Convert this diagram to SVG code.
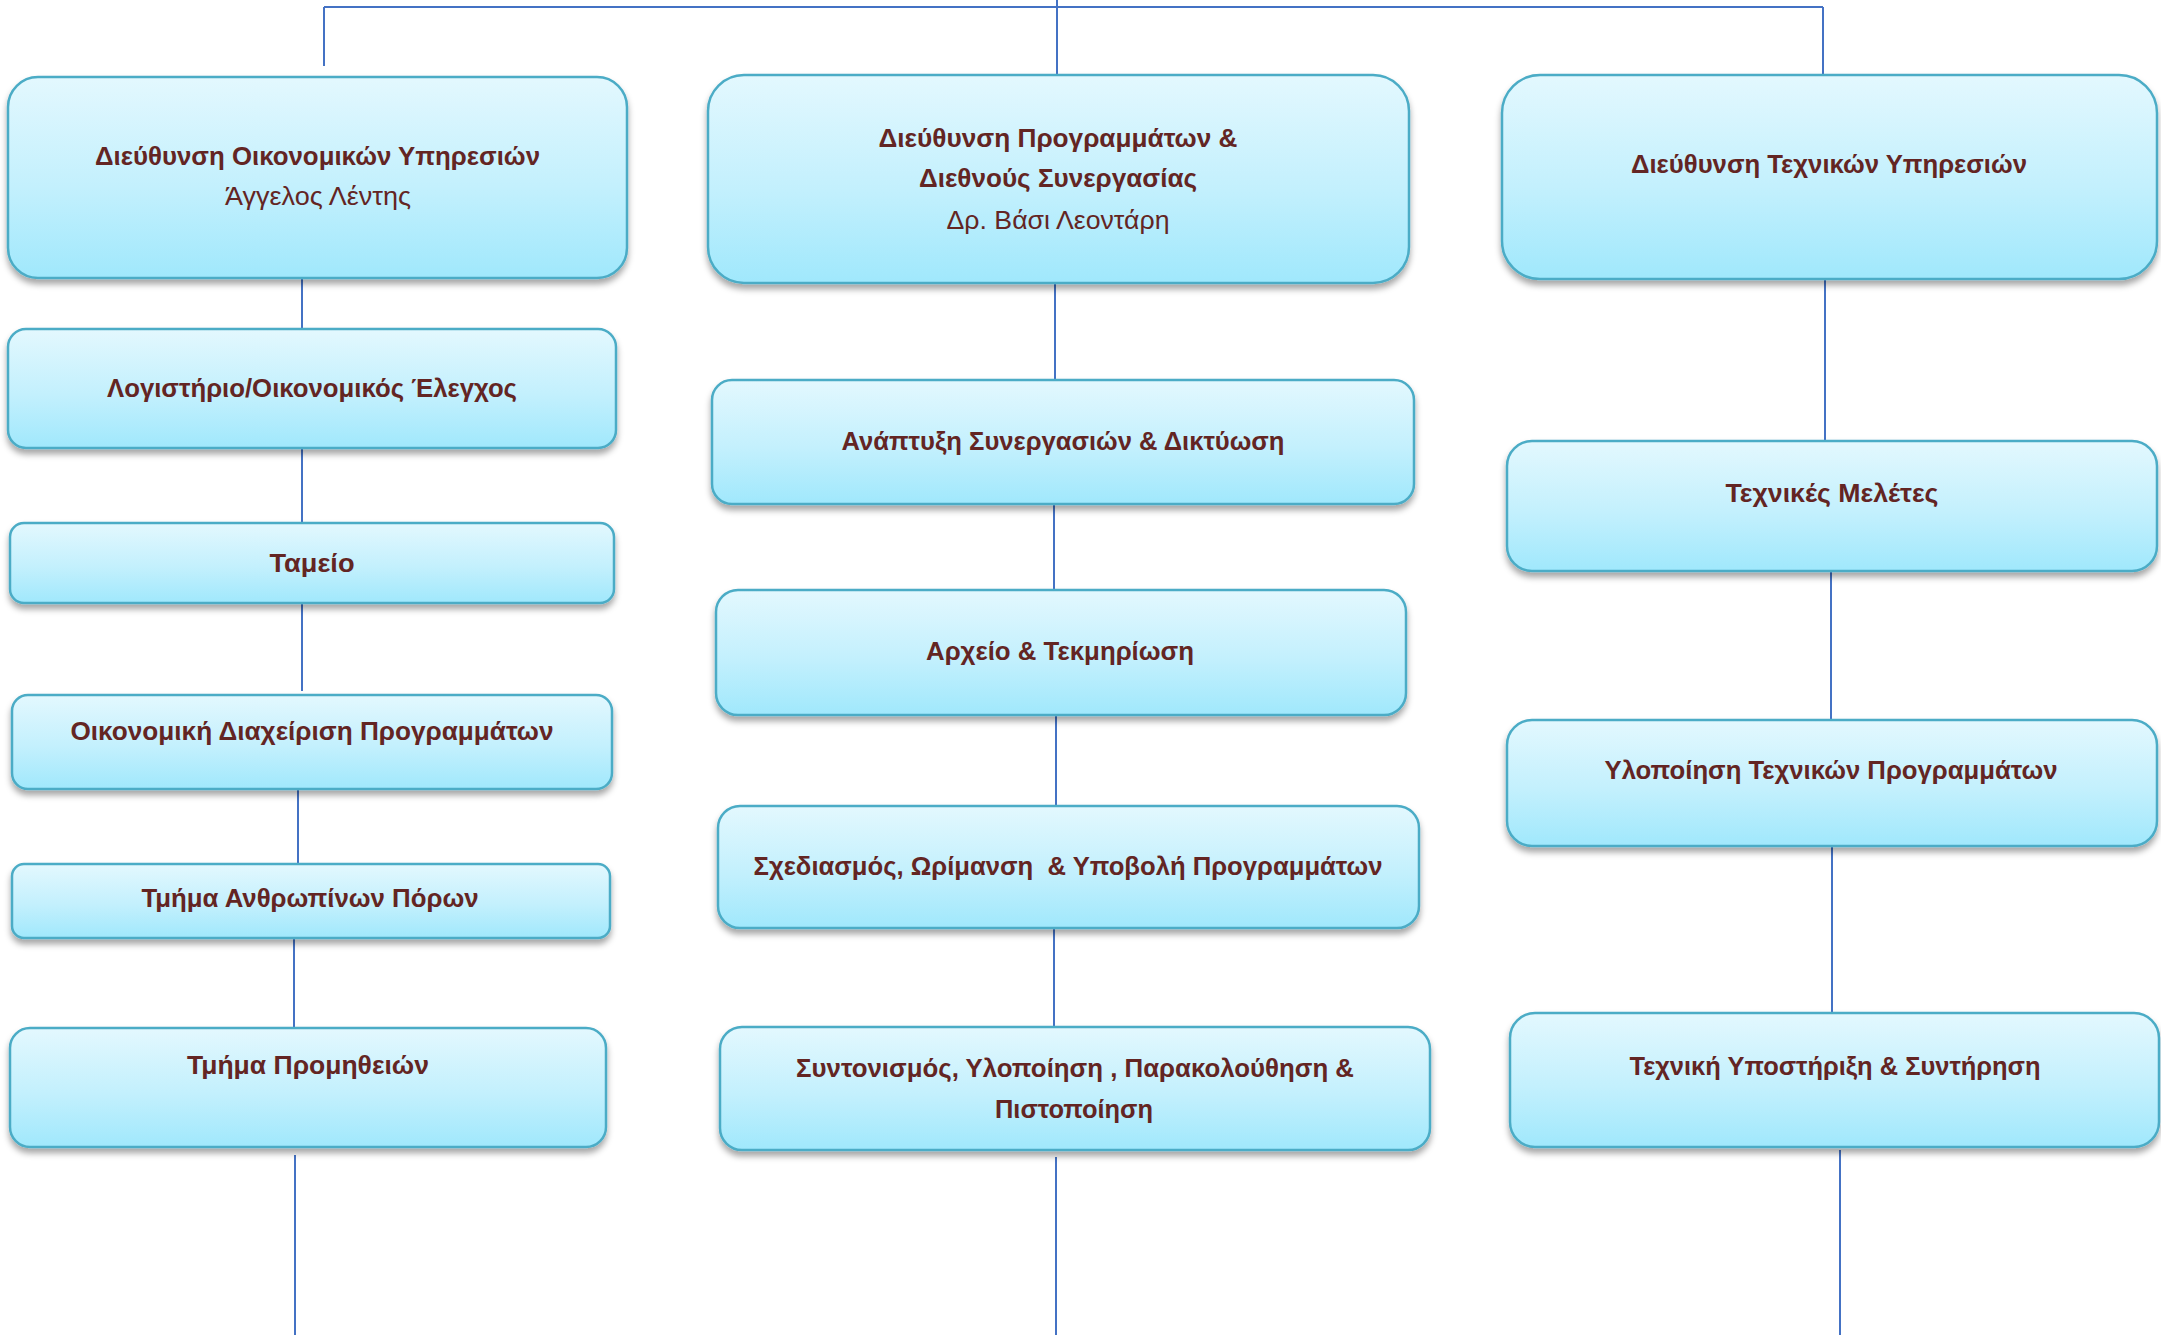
<svg xmlns="http://www.w3.org/2000/svg" width="2161" height="1335" viewBox="0 0 2161 1335">
<defs>
<linearGradient id="g" x1="0" y1="0" x2="0" y2="1">
<stop offset="0" stop-color="#e3f8fe"/>
<stop offset="0.55" stop-color="#c3f0fd"/>
<stop offset="1" stop-color="#a0e8fc"/>
</linearGradient>
<filter id="sh" x="-5%" y="-10%" width="110%" height="130%">
<feDropShadow dx="0" dy="5" stdDeviation="3" flood-color="#000" flood-opacity="0.35"/>
</filter>
</defs>
<style>
.box{fill:url(#g);stroke:#4bacc6;stroke-width:2.5;filter:url(#sh)}
.t{font-family:"Liberation Sans","Noto Sans",sans-serif;font-size:25px;font-weight:bold;fill:#632523;text-anchor:middle}
.n{font-family:"Liberation Sans","Noto Sans",sans-serif;font-size:25px;fill:#632523;text-anchor:middle}
.c{stroke:#4472c4;stroke-width:2;fill:none}
</style>
<rect width="2161" height="1335" fill="#fff"/>
<g id="connectors">
<path class="c" d="M324 7 H1823"/>
<path class="c" d="M324 7 V66"/>
<path class="c" d="M1057 0 V76"/>
<path class="c" d="M1823 7 V75"/>
<path class="c" d="M302 279 V329"/>
<path class="c" d="M302 448 V522"/>
<path class="c" d="M302 603 V691"/>
<path class="c" d="M298 789 V864"/>
<path class="c" d="M294 938 V1028"/>
<path class="c" d="M295 1155 V1335"/>
<path class="c" d="M1055 283 V381"/>
<path class="c" d="M1054 504 V591"/>
<path class="c" d="M1056 715 V806"/>
<path class="c" d="M1054 928 V1028"/>
<path class="c" d="M1056 1157 V1335"/>
<path class="c" d="M1825 279 V441"/>
<path class="c" d="M1831 571 V720"/>
<path class="c" d="M1832 846 V1013"/>
<path class="c" d="M1840 1150 V1335"/>
</g>
<g id="n-oikonomikon">
<rect class="box" x="8" y="77" width="619" height="201" rx="30"/>
<text class="t" x="317.5" y="165" textLength="445" lengthAdjust="spacingAndGlyphs">Διεύθυνση Οικονομικών Υπηρεσιών</text>
<text class="n" x="318" y="205" textLength="186" lengthAdjust="spacingAndGlyphs">Άγγελος Λέντης</text>
</g>
<g id="n-logistirio">
<rect class="box" x="8" y="329" width="608" height="119" rx="18"/>
<text class="t" x="312" y="397" textLength="410" lengthAdjust="spacingAndGlyphs">Λογιστήριο/Οικονομικός Έλεγχος</text>
</g>
<g id="n-tameio">
<rect class="box" x="10" y="523" width="604" height="80" rx="14"/>
<text class="t" x="312" y="572" textLength="85" lengthAdjust="spacingAndGlyphs">Ταμείο</text>
</g>
<g id="n-oik-diax">
<rect class="box" x="12" y="695" width="600" height="94" rx="16"/>
<text class="t" x="312" y="740" textLength="483" lengthAdjust="spacingAndGlyphs">Οικονομική Διαχείριση Προγραμμάτων</text>
</g>
<g id="n-anthropinon">
<rect class="box" x="12" y="864" width="598" height="74" rx="12"/>
<text class="t" x="310" y="907" textLength="337" lengthAdjust="spacingAndGlyphs">Τμήμα Ανθρωπίνων Πόρων</text>
</g>
<g id="n-promitheion">
<rect class="box" x="10" y="1028" width="596" height="119" rx="20"/>
<text class="t" x="308" y="1074" textLength="242" lengthAdjust="spacingAndGlyphs">Τμήμα Προμηθειών</text>
</g>
<g id="n-programmaton">
<rect class="box" x="708" y="75" width="701" height="208" rx="36"/>
<text class="t" x="1058" y="147" textLength="359" lengthAdjust="spacingAndGlyphs">Διεύθυνση Προγραμμάτων &amp;</text>
<text class="t" x="1058" y="187" textLength="278" lengthAdjust="spacingAndGlyphs">Διεθνούς Συνεργασίας</text>
<text class="n" x="1058" y="229" textLength="223" lengthAdjust="spacingAndGlyphs">Δρ. Βάσι Λεοντάρη</text>
</g>
<g id="n-anaptyxi">
<rect class="box" x="712" y="380" width="702" height="124" rx="20"/>
<text class="t" x="1063" y="450" textLength="443" lengthAdjust="spacingAndGlyphs">Ανάπτυξη Συνεργασιών &amp; Δικτύωση</text>
</g>
<g id="n-arxeio">
<rect class="box" x="716" y="590" width="690" height="125" rx="22"/>
<text class="t" x="1060" y="660" textLength="268" lengthAdjust="spacingAndGlyphs">Αρχείο &amp; Τεκμηρίωση</text>
</g>
<g id="n-sxediasmos">
<rect class="box" x="718" y="806" width="701" height="122" rx="22"/>
<text class="t" x="1068" y="875" textLength="629" lengthAdjust="spacingAndGlyphs" xml:space="preserve">Σχεδιασμός, Ωρίμανση  &amp; Υποβολή Προγραμμάτων</text>
</g>
<g id="n-syntonismos">
<rect class="box" x="720" y="1027" width="710" height="123" rx="22"/>
<text class="t" x="1075" y="1077" textLength="558" lengthAdjust="spacingAndGlyphs">Συντονισμός, Υλοποίηση , Παρακολούθηση &amp;</text>
<text class="t" x="1074" y="1118" textLength="158" lengthAdjust="spacingAndGlyphs">Πιστοποίηση</text>
</g>
<g id="n-texnikon">
<rect class="box" x="1502" y="75" width="655" height="204" rx="38"/>
<text class="t" x="1829" y="173" textLength="396" lengthAdjust="spacingAndGlyphs">Διεύθυνση Τεχνικών Υπηρεσιών</text>
</g>
<g id="n-meletes">
<rect class="box" x="1507" y="441" width="650" height="130" rx="25"/>
<text class="t" x="1832" y="502" textLength="213" lengthAdjust="spacingAndGlyphs">Τεχνικές Μελέτες</text>
</g>
<g id="n-ylopoiisi">
<rect class="box" x="1507" y="720" width="650" height="126" rx="25"/>
<text class="t" x="1831" y="779" textLength="453" lengthAdjust="spacingAndGlyphs">Υλοποίηση Τεχνικών Προγραμμάτων</text>
</g>
<g id="n-ypostiriksi">
<rect class="box" x="1510" y="1013" width="649" height="134" rx="25"/>
<text class="t" x="1835" y="1075" textLength="411" lengthAdjust="spacingAndGlyphs">Τεχνική Υποστήριξη &amp; Συντήρηση</text>
</g>
</svg>
